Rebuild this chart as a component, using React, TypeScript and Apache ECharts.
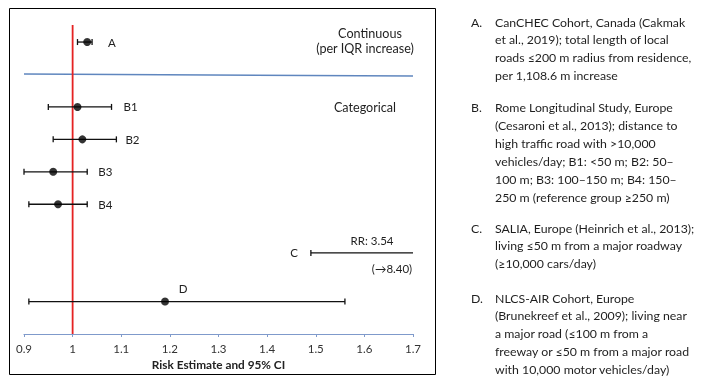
import React, { useEffect, useRef } from "react";
import * as echarts from "echarts";

const categories = ["A", "B1", "B2", "B3", "B4", "C", "D"];
const rowSlot = [0, 4, 6, 8, 10, 13, 16];
const estimate = [1.03, 1.01, 1.02, 0.96, 0.97, 3.54, 1.19];
const lower = [1.01, 0.95, 0.96, 0.9, 0.91, 1.49, 0.91];
const upper = [1.04, 1.08, 1.09, 1.03, 1.03, 8.4, 1.56];

const xMin = 0.9;
const xMax = 1.7;
const xStep = 0.1;
const refValue = 1;

const axisTitle = "Risk Estimate and 95% CI";
const sectionTitles = ["Continuous", "(per IQR increase)", "Categorical"];
const cNotes = ["RR: 3.54", "(\u21928.40)"];

const noteLetters = ["A.", "B.", "C.", "D."];
const notesA = [
  "CanCHEC Cohort, Canada (Cakmak",
  "et al., 2019); total length of local",
  "roads \u2264200 m radius from residence,",
  "per 1,108.6 m increase",
];
const notesB = [
  "Rome Longitudinal Study, Europe",
  "(Cesaroni et al., 2013); distance to",
  "high traffic road with >10,000",
  "vehicles/day; B1: <50 m; B2: 50\u2013",
  "100 m; B3: 100\u2013150 m; B4: 150\u2013",
  "250 m (reference group \u2265250 m)",
];
const notesC = [
  "SALIA, Europe (Heinrich et al., 2013);",
  "living \u226450 m from a major roadway",
  "(\u226510,000 cars/day)",
];
const notesD = [
  "NLCS-AIR Cohort, Europe",
  "(Brunekreef et al., 2009); living near",
  "a major road (\u2264100 m from a",
  "freeway or \u226450 m from a major road",
  "with 10,000 motor vehicles/day)",
];

const FONT = "Lato";
const TXT = "#1f1f1f";

export default function App() {
  const ref = useRef<HTMLDivElement>(null);
  useEffect(() => {
    document.body.style.margin = "0";
    const chart = echarts.init(ref.current!, null, { renderer: "svg" });

    const ciData = categories.map((c, i) => [lower[i], upper[i], rowSlot[i], estimate[i], i]);
    const pointData = categories
      .map((c, i) => [estimate[i], rowSlot[i]])
      .filter((d) => d[0] <= xMax);

    // label placement rules (style only)
    const labelRule: Record<string, any> = {
      A: { side: "right", gap: 16 },
      B1: { side: "right", gap: 12 },
      B2: { side: "right", gap: 9 },
      B3: { side: "right", gap: 11 },
      B4: { side: "right", gap: 11 },
      C: { side: "left", gap: 13 },
      D: { side: "above", dx: 18, dy: -13 },
    };

    const notes = [notesA, notesB, notesC, notesD];
    const noteTop = [22, 107.5, 228, 298];
    const lineH = 17.9;
    const noteFont = `12.3px ${FONT}`;
    const annFont = `12.6px ${FONT}`;
    const graphics: any[] = [
      {
        type: "rect",
        shape: { x: 9.5, y: 8.5, width: 426, height: 366 },
        style: { fill: "none", stroke: "#000", lineWidth: 1 },
        silent: true,
      },
      { type: "text", x: 370, y: 33, style: { text: sectionTitles[0], font: annFont, fill: TXT, align: "center", verticalAlign: "middle" } },
      { type: "text", x: 365, y: 48.5, style: { text: sectionTitles[1], font: annFont, fill: TXT, align: "center", verticalAlign: "middle" } },
      { type: "text", x: 365, y: 107.5, style: { text: sectionTitles[2], font: annFont, fill: TXT, align: "center", verticalAlign: "middle" } },
      { type: "text", x: 372, y: 240.5, style: { text: cNotes[0], font: `11.5px ${FONT}`, fill: TXT, align: "center", verticalAlign: "middle" } },
      { type: "text", x: 392, y: 268.5, style: { text: cNotes[1], font: `11.5px ${FONT}`, fill: TXT, align: "center", verticalAlign: "middle" } },
    ];
    notes.forEach((lines, p) => {
      graphics.push({
        type: "text",
        x: 471,
        y: noteTop[p],
        style: { text: noteLetters[p], font: noteFont, fill: TXT, verticalAlign: "middle" },
      });
      lines.forEach((ln, k) => {
        graphics.push({
          type: "text",
          x: 495,
          y: noteTop[p] + k * lineH,
          style: { text: ln, font: noteFont, fill: TXT, verticalAlign: "middle" },
        });
      });
    });

    chart.setOption({
      animation: false,
      textStyle: { fontFamily: FONT },
      grid: { left: 24, right: 292, top: 9.6, bottom: 49 },
      xAxis: {
        type: "value",
        min: xMin,
        max: xMax,
        interval: xStep,
        splitLine: { show: false },
        axisLine: { show: true, onZero: false, lineStyle: { color: "#7F9ACB", width: 1.2 } },
        axisTick: { show: true, length: 3, lineStyle: { color: "#7F9ACB" } },
        axisLabel: {
          color: "#333",
          fontSize: 11.5,
          margin: 8,
          formatter: (v: number) => String(Number(v.toFixed(1))),
        },
        name: axisTitle,
        nameLocation: "middle",
        nameGap: 23,
        nameTextStyle: { color: "#222", fontWeight: "bold", fontSize: 11.8 },
      },
      yAxis: { type: "value", inverse: true, min: -2, max: 18, show: false },
      graphic: graphics,
      series: [
        {
          type: "line",
          data: [
            [xMin, 1.975],
            [xMax, 2.1],
          ],
          symbol: "none",
          lineStyle: { color: "#5F86BE", width: 1.5 },
          z: 1,
        },
        {
          type: "line",
          data: [
            [refValue, -1.05],
            [refValue, 18],
          ],
          symbol: "none",
          lineStyle: { color: "#E52222", width: 1.8 },
          z: 2,
        },
        {
          type: "custom",
          data: ciData,
          z: 3,
          renderItem: (params: any, api: any) => {
            const lo = api.value(0);
            const hi = api.value(1);
            const row = api.value(2);
            const est = api.value(3);
            const name = categories[api.value(4)];
            const hiC = Math.min(hi, xMax);
            const p0 = api.coord([lo, row]);
            const p1 = api.coord([hiC, row]);
            const st = { stroke: "#111", lineWidth: 1.3 };
            const children: any[] = [
              { type: "line", shape: { x1: p0[0], y1: p0[1], x2: p1[0], y2: p1[1] }, style: st },
              { type: "line", shape: { x1: p0[0], y1: p0[1] - 3, x2: p0[0], y2: p0[1] + 3 }, style: st },
            ];
            if (hi <= xMax) {
              children.push({ type: "line", shape: { x1: p1[0], y1: p1[1] - 3, x2: p1[0], y2: p1[1] + 3 }, style: st });
            }
            const rule = labelRule[name];
            let tx = p1[0] + (rule.gap || 0);
            let ty = p1[1];
            let align = "left";
            if (rule.side === "left") {
              tx = p0[0] - rule.gap;
              align = "right";
            } else if (rule.side === "above") {
              const pe = api.coord([est, row]);
              tx = pe[0] + rule.dx;
              ty = pe[1] + rule.dy;
              align = "center";
            }
            children.push({
              type: "text",
              x: tx,
              y: ty,
              style: { text: name, font: `11.5px ${FONT}`, fill: "#222", align, verticalAlign: "middle" },
            });
            return { type: "group", children };
          },
        },
        {
          type: "scatter",
          data: pointData,
          symbolSize: 8,
          itemStyle: { color: "#000" },
          z: 4,
        },
      ],
    });
    return () => chart.dispose();
  }, []);
  return <div ref={ref} style={{ position: "fixed", left: 0, top: 0, width: 705, height: 383 }} />;
}
